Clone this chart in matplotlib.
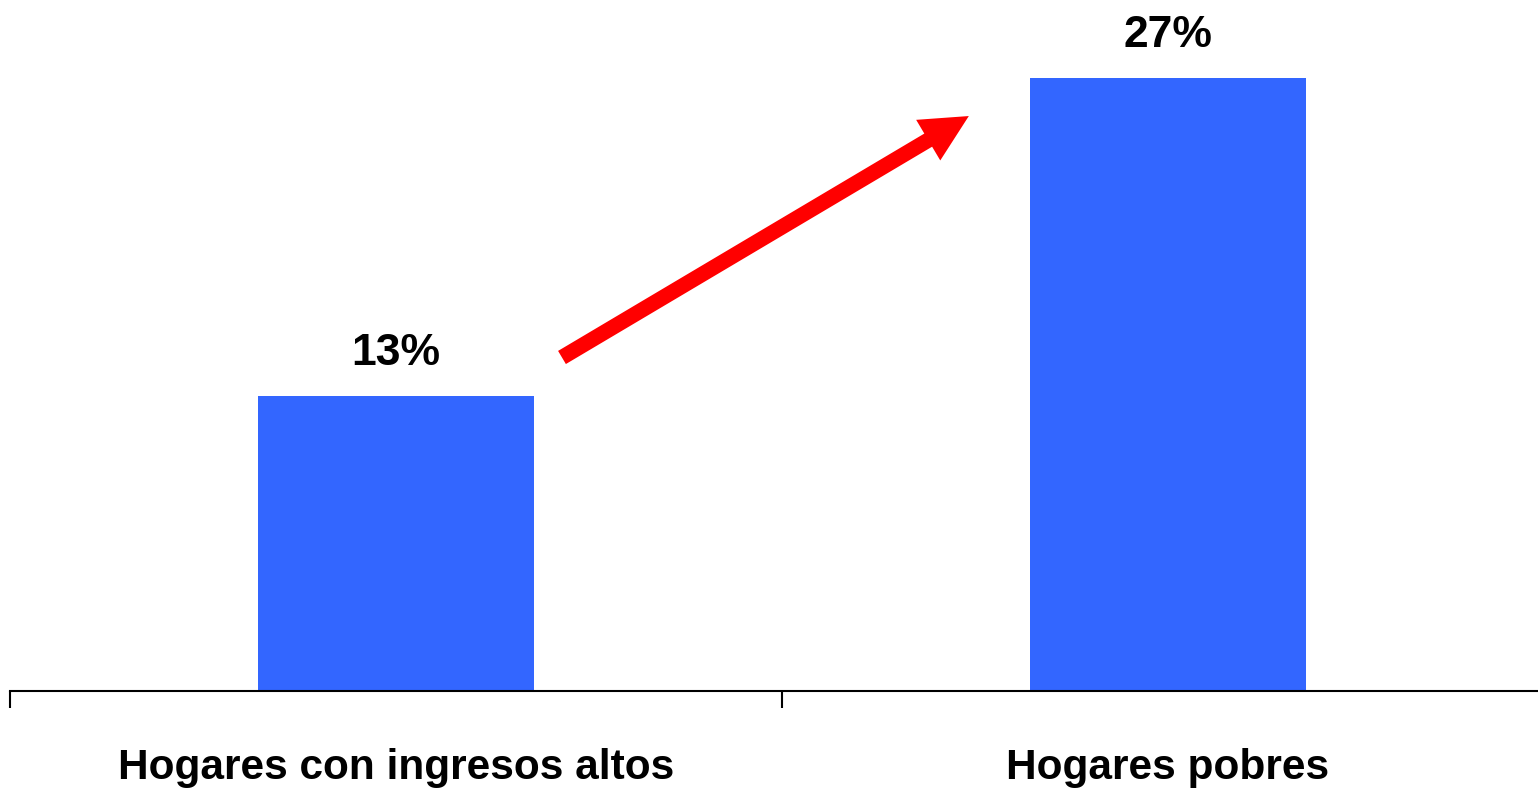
import matplotlib
matplotlib.use("Agg")
import matplotlib.pyplot as plt
from matplotlib import font_manager

# data
categories = ["Hogares con ingresos altos", "Hogares pobres"]
values = [13, 27]
labels = ["13%", "27%"]

names = {f.name for f in font_manager.fontManager.ttflist}
fam = "Liberation Sans Narrow" if "Liberation Sans Narrow" in names else "Liberation Sans"
narrow = fam.endswith("Narrow")
plt.rcParams["font.family"] = [fam, "DejaVu Sans"]

W, H = 1538, 788
fig = plt.figure(figsize=(W / 100, H / 100), dpi=100)
# axes in pixels: x -0.5 -> 10px, 1.5 -> 1554px ; y 0 -> 690.5px
ax = fig.add_axes([10 / W, (H - 690.5) / H, 1544 / W, 680 / H])
ax.set_xlim(-0.5, 1.5)
ax.set_ylim(0, 680 / 22.67)

bars = ax.bar(range(len(values)), values, width=0.357, color="#3366FF", zorder=2)
for b, lab in zip(bars, labels):
    ax.annotate(lab, (b.get_x() + b.get_width() / 2, b.get_height()),
                xytext=(0, 22.5), textcoords="offset points",
                ha="center", va="baseline",
                fontsize=37 if narrow else 32, fontweight="bold")

for s in ["top", "left", "right"]:
    ax.spines[s].set_visible(False)
ax.spines["bottom"].set_linewidth(1.5)
ax.set_yticks([])
ax.set_xticks([-0.5, 0.5, 1.5])
ax.set_xticklabels([])
ax.tick_params(axis="x", which="major", length=12, width=1.5, direction="out")
ax.set_xticks([0, 1], minor=True)
ax.set_xticklabels(categories, minor=True, fontsize=33 if narrow else 30.5,
                   fontweight="bold", va="baseline")
ax.tick_params(axis="x", which="minor", length=0, pad=63.5)

# red arrow
ax.annotate("", xy=(0.742, 25.34), xytext=(0.215, 14.69),
            arrowprops=dict(facecolor="#FF0000", edgecolor="none",
                            width=11, headwidth=34, headlength=34, shrink=0))

fig.savefig("out.png", dpi=100)
